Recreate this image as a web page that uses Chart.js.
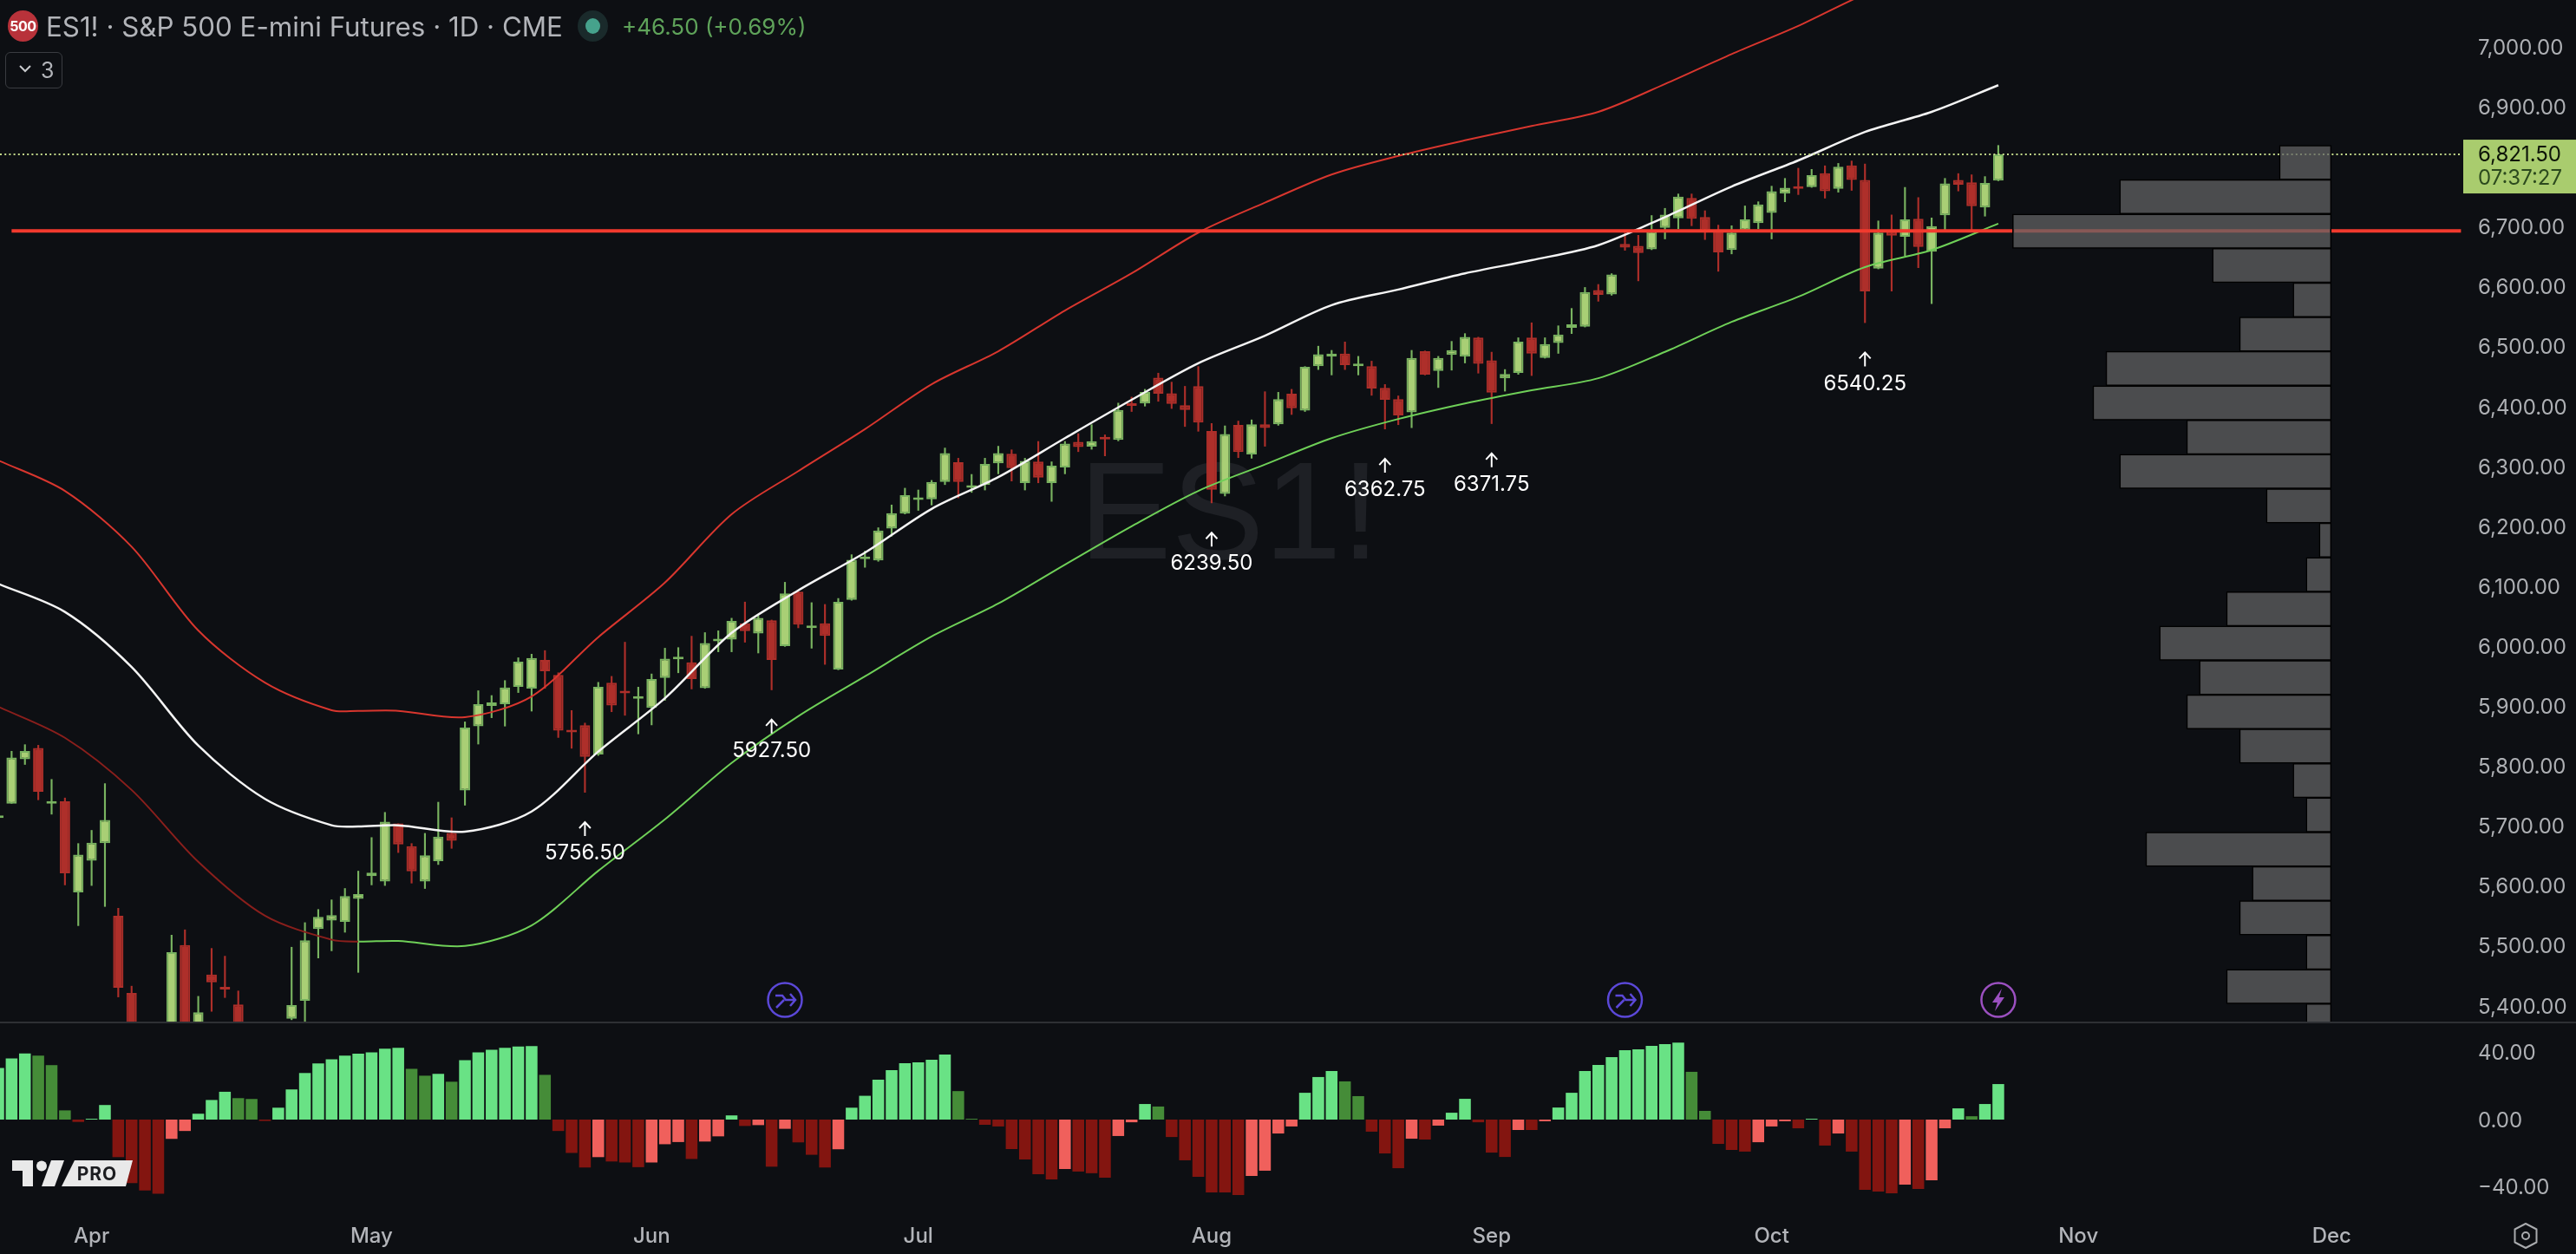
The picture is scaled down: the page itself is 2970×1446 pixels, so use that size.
<!DOCTYPE html>
<html>
<head>
<meta charset="utf-8">
<title>ES1! daily</title>
<script src="https://cdn.jsdelivr.net/npm/chart.js@4/dist/chart.umd.js"></script>
<style>
  html, body { margin: 0; padding: 0; background: #0d0f13; }
  #page { position: relative; width: 2970px; height: 1446px; overflow: hidden; background: #0d0f13; font-family: Inter, sans-serif; }
  #page canvas { position: absolute; left: 0; }
  #priceChart { top: 0; }
  #oscChart { top: 1180px; }
  .abs { position: absolute; white-space: nowrap; }
  #watermark { left: 1244px; top: 493px; font: 160px/1.2 "Liberation Sans", sans-serif; color: #1e2025; }
  #sep { left: 0; top: 1178px; width: 2970px; height: 2px; background: #2e3034; }
  #badge { left: 9px; top: 12px; width: 35px; height: 36px; border-radius: 50%; background: #b8323a; color: #fff; font: 700 16px/36px Inter, sans-serif; text-align: center; letter-spacing: -0.5px; }
  #title { left: 53px; top: 13px; font-size: 31.3px; line-height: 36px; color: #b2b4b9; }
  #dotOuter { left: 666px; top: 12px; width: 35px; height: 36px; border-radius: 50%; background: #1a2a2b; }
  #dotInner { left: 675px; top: 21px; width: 17px; height: 18px; border-radius: 50%; background: #46a28c; }
  #change { left: 717px; top: 15px; font-size: 26px; line-height: 32px; color: #5fa35a; }
  #legendBox { left: 6px; top: 60px; width: 64px; height: 40px; border: 1.5px solid #3a3c41; border-radius: 6px; color: #b2b4b9; font-size: 25px; line-height: 40px; }
  #legendBox span { position: absolute; left: 40px; top: 0; }
</style>
</head>
<body>
<div id="page">
  <div id="watermark" class="abs">ES1!</div>
  <canvas id="priceChart" width="2970" height="1178"></canvas>
  <canvas id="oscChart" width="2970" height="266"></canvas>
  <div id="sep" class="abs"></div>
  <div id="badge" class="abs">500</div>
  <div id="title" class="abs">ES1! · S&amp;P 500 E-mini Futures · 1D · CME</div>
  <div id="dotOuter" class="abs"></div>
  <div id="dotInner" class="abs"></div>
  <div id="change" class="abs">+46.50 (+0.69%)</div>
  <div id="legendBox" class="abs">
    <svg style="position:absolute;left:14px;top:13px" width="16" height="12"><path d="M2 2 L8 8 L14 2" fill="none" stroke="#c8cacd" stroke-width="2"/></svg>
    <span>3</span>
  </div>
  <svg class="abs" style="left:0;top:1330px" width="170" height="46">
    <path d="M14 8 H38 V38 H26 V20 H14 Z" fill="#e9e9e9"/>
    <circle cx="48" cy="14.5" r="6" fill="#e9e9e9"/>
    <path d="M59 8 H74 L63 38 H48 Z" fill="#e9e9e9"/>
    <path d="M86 8 H153 L145 38 H71 Z" fill="#e9e9e9"/>
    <text x="112" y="31" text-anchor="middle" font-family="Inter" font-weight="700" font-size="21" letter-spacing="1" fill="#1c1d20">PRO</text>
  </svg>
  <svg class="abs" style="left:2895px;top:1408px" width="34" height="34">
    <path d="M9.5 4.5 H24.5 L31 17 L24.5 29.5 H9.5 L3 17 Z" fill="none" stroke="#a9abae" stroke-width="2" stroke-linejoin="round" transform="rotate(90 17 17)"/>
    <circle cx="17" cy="17" r="4" fill="none" stroke="#a9abae" stroke-width="2"/>
  </svg>
</div>

<script>
const opens = [5714,5738,5812,5831,5738,5742,5590,5643,5672,5551,5422,5280,5060,5060,5502,5340,5453,5430,5403,5340,5210,5290,5379,5409,5529,5543,5541,5579,5617,5608,5705,5667,5608,5642,5689,5760,5867,5901,5904,5933,5930,5978,5953,5859,5869,5820,5940,5924,5913,5898,5948,5979,5974,5931,6009,6012,6039,6022,6044,6001,6092,6031,6039,5962,6078,6146,6144,6197,6222,6245,6246,6275,6308,6265,6270,6306,6322,6273,6309,6273,6299,6342,6334,6348,6345,6404,6406,6449,6423,6403,6435,6360,6255,6370,6321,6371,6371,6422,6394,6468,6484,6489,6468,6468,6432,6413,6391,6493,6460,6487,6484,6516,6478,6448,6457,6516,6482,6507,6532,6534,6595,6588,6672,6669,6663,6699,6715,6749,6717,6695,6662,6695,6707,6724,6756,6767,6767,6790,6764,6803,6779,6631,6693,6684,6714,6659,6720,6779,6775,6733,6778];
const highs = [5722,5826,5837,5836,5779,5748,5672,5694,5772,5564,5434,5330,5290,5519,5528,5417,5497,5484,5426,5368,5300,5365,5499,5540,5562,5578,5597,5626,5682,5724,5705,5672,5689,5741,5715,5875,5927,5919,5944,5982,5988,5994,5957,5894,5873,5941,5951,6008,5933,5955,5998,5999,6018,6024,6027,6048,6075,6052,6045,6108,6093,6074,6071,6081,6154,6160,6199,6237,6265,6262,6278,6332,6315,6288,6315,6335,6329,6315,6343,6309,6343,6356,6371,6354,6407,6417,6430,6457,6442,6435,6468,6373,6369,6377,6379,6426,6425,6430,6468,6502,6495,6509,6485,6477,6438,6419,6495,6494,6485,6510,6523,6517,6492,6463,6516,6541,6516,6536,6565,6600,6605,6623,6691,6687,6720,6732,6756,6756,6728,6704,6703,6736,6743,6769,6782,6799,6797,6803,6807,6811,6806,6711,6721,6767,6750,6716,6782,6790,6788,6785,6837];
const lows = [5708,5738,5803,5744,5720,5602,5534,5601,5566,5415,5250,5100,4830,5020,5260,5280,5391,5414,5300,5200,5150,5270,5377,5370,5480,5492,5523,5456,5602,5601,5656,5605,5596,5636,5663,5735,5837,5881,5867,5923,5892,5930,5848,5830,5756.5,5818,5891,5885,5854,5869,5910,5956,5929,5930,5991,5991,6007,5989,5927.5,6000,6031,5997,5970,5961,6077,6132,6142,6184,6221,6227,6236,6270,6248,6257,6261,6288,6276,6261,6273,6242,6288,6325,6329,6318,6343,6392,6401,6409,6397,6367,6359,6239.5,6251,6315,6314,6334,6369,6387,6392,6462,6453,6462,6453,6419,6362.75,6370,6365,6453,6432,6461,6473,6456,6371.75,6426,6454,6452,6481,6489,6522,6533,6576,6586,6661,6610,6662,6680,6697,6702,6679,6626,6655,6692,6697,6680,6742,6754,6766,6748,6758,6761,6540.25,6630,6593,6652,6632,6572,6695,6760,6695,6718,6777];
const closes = [5717,5815,5826,5758,5740,5622,5653,5673,5711,5431,5290,5110,5080,5490,5330,5390,5440,5428,5340,5210,5290,5350,5402,5510,5549,5552,5584,5587,5623,5708,5670,5625,5652,5683,5676,5865,5904,5907,5932,5975,5981,5959,5860,5857,5816,5933,5902,5922,5916,5946,5980,5981,5946,6006,6011,6043,6026,6048,5978,6089,6037,6034,6018,6075,6145,6149,6194,6223,6253,6248,6275,6323,6275,6269,6305,6323,6298,6310,6282,6302,6339,6333,6343,6346,6395,6402,6425,6422,6405,6395,6374,6262,6355,6325,6371,6365,6413,6398,6467,6488,6489,6470,6470,6431,6412,6386,6482,6454,6482,6495,6517,6472,6424,6455,6509,6489,6505,6521,6538,6592,6587,6621,6666,6657,6693,6721,6751,6714,6693,6658,6691,6713,6738,6760,6766,6764,6787,6760,6801,6779,6593,6691,6686,6713,6667,6702,6773,6771,6735,6774,6821.5];

const oscValues = [30.8,36.5,39.5,38.2,32.5,5.5,-1.4,0.5,8.7,-22.4,-37.9,-42.3,-44.2,-11.5,-6.8,3.5,11.7,16.6,12.8,12.3,-0.8,7.1,18,27.8,33.5,36,38.2,39.3,40.1,42.3,42.8,30.3,26.2,27.3,22.6,35.5,40.1,41.7,42.8,43.6,43.9,26.7,-6.8,-19.9,-28.6,-22.4,-25,-25.6,-28.4,-25.6,-14.7,-13.4,-23.5,-13.1,-10,2.5,-3.8,-3.3,-28.1,-5.5,-13.6,-21,-28.6,-17.7,7.1,14.2,23.8,29.5,33.6,34.2,35.7,38.8,17,0.5,-3.1,-4.1,-17.6,-23.8,-32.6,-35.7,-29.5,-31,-32,-34.7,-9.8,-1.6,9.3,7.8,-10.4,-24.3,-34.2,-43.5,-43.5,-45,-33.6,-30.5,-8.3,-4.1,16,25.4,29,22.8,14,-7.2,-20.2,-29,-11.4,-11.9,-3.6,4.1,12.4,-1.6,-19.7,-22.3,-6.2,-6.2,-1,7.2,16,29,32.6,37.3,41.4,41.9,44,45,46,28.5,5.2,-14.5,-18.1,-19.1,-13.5,-4.1,-1,-5.2,0.5,-15.5,-8.3,-19.1,-41.9,-43,-44,-38.8,-41.4,-36.2,-5.2,6.7,2,9.3,21.2];

// bands at these bar numbers
const lineIdx = [0,5,10,15,20,25,27,30,35,40,45,50,55,60,65,70,75,80,85,90,95,100,105,110,115,120,125,130,135,140,145,150];
const upperBand = [6311,6260,6167,6027,5940,5894,5893,5893,5882.5,5917,6016,6107,6221,6293,6363,6438,6493,6561,6623,6691,6741,6788,6819,6845,6869,6892.5,6939,6989,7036,7089,7130,7173];
const midBand = [6105,6058,5966,5835,5746,5702,5700,5702,5691.5,5725,5825,5914,6023,6094,6157,6230,6283,6348,6412,6473,6519,6570,6596,6623,6645,6670,6717,6768,6811.5,6859,6892.5,6937];
const lowerBand = [5900,5848,5761,5641,5551,5511,5508,5509,5500.5,5535,5626,5712,5806,5884,5950.5,6017,6072,6137,6201,6260,6304,6348,6380,6406,6428,6448,6492,6542,6584,6633.5,6662,6706];

const volPrices = [6808,6750.7,6693.4,6636.1,6578.8,6521.5,6464.2,6406.9,6349.6,6292.3,6235,6177.7,6120.4,6063.1,6005.8,5948.5,5891.2,5833.9,5776.6,5719.3,5662,5604.7,5547.4,5490.1,5432.8,5375.5];
const volProfile = [16.3,66.4,100,37.3,12,28.8,70.7,74.8,45.4,66.4,20.4,3.8,7.9,32.9,53.9,41.4,45.4,28.8,12,7.9,58.2,24.8,28.8,7.9,32.9,7.9];

const priceTicks = [7000,6900,6700,6600,6500,6400,6300,6200,6100,6000,5900,5800,5700,5600,5500,5400];
const oscTicks = [40,0,-40];
const monthIdx = [7,28,49,69,91,112,133,156,175];
const monthLabels = ["Apr","May","Jun","Jul","Aug","Sep","Oct","Nov","Dec"];

const lastPrice = 6821.5;
const countdown = "07:37:27";
const levelLine = 6694;
const lowMarks = [44,58,91,104,112,140];
const eventBars = [59,122];
const flashBars = [150];

const xMin = 0.13, xMax = 184.87, lineEnd = 184.7;
const yMin = 5374.4, yMax = 7079.2;
const font = "Inter, sans-serif";
const tickColor = "#aeb0b4";

const upFill = "#a9cf75", upEdge = "#79b360", downFill = "#ae2f2a";

function isUp(i) { return closes[i] >= opens[i]; }

// the tick padding must not push the plot area in
function pinWidth(scale) {
  scale.width = 130;
  scale.paddingTop = 0;
  scale.paddingBottom = 0;
}

function oscColor(ctx) {
  const i = ctx.dataIndex;
  const v = oscValues[i];
  const prev = i > 0 ? oscValues[i - 1] : v;
  if (v >= 0) return v >= prev ? "#69e285" : "#458c38";
  return v > prev ? "#f0605c" : "#831510";
}

function bandData(values) {
  return lineIdx.map((x, i) => ({ x: x, y: values[i] }));
}

function bandLine(label, values, color, width) {
  return {
    type: "line", label: label, data: bandData(values), borderColor: color, borderWidth: width,
    pointRadius: 0, tension: 0.3, order: 2, xAxisID: "x", yAxisID: "y"
  };
}

// arrows under the swing lows, event icons, last price box
const overlayPlugin = {
  id: "overlay",
  afterDraw(chart) {
    const c = chart.ctx, xs = chart.scales.x, ys = chart.scales.y;
    c.save();
    lowMarks.forEach((i) => {
      const x = xs.getPixelForValue(i), y = ys.getPixelForValue(lows[i]);
      c.strokeStyle = "#fff";
      c.lineWidth = 2;
      c.beginPath();
      c.moveTo(x, y + 34);
      c.lineTo(x, y + 50);
      c.moveTo(x - 6.5, y + 41);
      c.lineTo(x, y + 34);
      c.lineTo(x + 6.5, y + 41);
      c.stroke();
      c.fillStyle = "#fff";
      c.font = "24px " + font;
      c.textAlign = "center";
      c.textBaseline = "middle";
      c.fillText(lows[i].toFixed(2), x, y + 70);
    });

    const cy = chart.chartArea.bottom - 25;
    eventBars.forEach((i) => {
      const x = xs.getPixelForValue(i);
      c.strokeStyle = "#5b48d8";
      c.lineWidth = 2.5;
      c.beginPath();
      c.arc(x, cy, 19.5, 0, Math.PI * 2);
      c.stroke();
      c.beginPath();
      c.moveTo(x - 11, cy - 5);
      c.lineTo(x - 3, cy - 5);
      c.lineTo(x + 1, cy);
      c.lineTo(x + 12, cy);
      c.moveTo(x + 6, cy - 7);
      c.lineTo(x + 12, cy);
      c.lineTo(x + 6, cy + 7);
      c.moveTo(x - 10, cy + 9);
      c.lineTo(x - 1, cy);
      c.stroke();
    });
    flashBars.forEach((i) => {
      const x = xs.getPixelForValue(i);
      c.strokeStyle = "#9b50c0";
      c.fillStyle = "#9b50c0";
      c.lineWidth = 2.5;
      c.beginPath();
      c.arc(x, cy, 19.5, 0, Math.PI * 2);
      c.stroke();
      c.beginPath();
      c.moveTo(x + 4, cy - 13);
      c.lineTo(x - 7, cy + 3);
      c.lineTo(x - 1, cy + 3);
      c.lineTo(x - 4, cy + 13);
      c.lineTo(x + 7, cy - 3);
      c.lineTo(x + 1, cy - 3);
      c.closePath();
      c.fill();
    });

    const py = ys.getPixelForValue(lastPrice);
    c.fillStyle = "#a9cc6e";
    c.fillRect(2840, py - 17, 130, 62);
    c.textAlign = "left";
    c.textBaseline = "middle";
    c.font = "24px " + font;
    c.fillStyle = "#0d1408";
    c.fillText(lastPrice.toLocaleString("en-US", { minimumFractionDigits: 2 }), 2857, py + 1);
    c.fillStyle = "#2c4a1e";
    c.fillText(countdown, 2857, py + 28);
    c.restore();
  }
};

const priceChart = new Chart(document.getElementById("priceChart").getContext("2d"), {
  data: {
    datasets: [
      {
        type: "bar", label: "volume profile", indexAxis: "y",
        data: volProfile.map((v, i) => ({ x: v, y: volPrices[i] })),
        xAxisID: "xVol", yAxisID: "yVol", grouped: false, order: 0,
        backgroundColor: "rgba(97,98,100,0.74)", borderColor: "#000", borderWidth: 1.5, borderSkipped: false,
        categoryPercentage: 1, barPercentage: 1
      },
      {
        type: "line", label: "level", data: [{ x: 1, y: levelLine }, { x: lineEnd, y: levelLine }],
        borderColor: "#f23a2e", borderWidth: 4, pointRadius: 0, order: 1, xAxisID: "x", yAxisID: "y"
      },
      {
        type: "line", label: "last", data: [{ x: xMin, y: lastPrice }, { x: lineEnd, y: lastPrice }],
        borderColor: "#c2d98a", borderWidth: 2, borderDash: [2, 3.2], pointRadius: 0, order: 1, xAxisID: "x", yAxisID: "y"
      },
      bandLine("upper", upperBand, "#d8362e", 2),
      bandLine("mid", midBand, "#f4f4f4", 2.5),
      Object.assign(bandLine("lower", lowerBand, "#6fd058", 2), {
        segment: { borderColor: (c) => (c.p0.parsed.x < 27 ? "#8a1f1c" : "#6fd058") }
      }),
      {
        type: "bar", label: "bodies",
        data: opens.map((o, i) => ({ x: i, y: [o, closes[i]] })),
        xAxisID: "x", yAxisID: "y", grouped: false, order: 3, minBarLength: 3,
        backgroundColor: (c) => (isUp(c.dataIndex) ? upFill : downFill),
        borderColor: (c) => (isUp(c.dataIndex) ? upEdge : downFill),
        borderWidth: 2, borderSkipped: false,
        categoryPercentage: 1, barPercentage: 0.78
      },
      {
        type: "bar", label: "wicks",
        data: lows.map((l, i) => ({ x: i, y: [l, highs[i]] })),
        xAxisID: "x", yAxisID: "y", grouped: false, order: 4,
        backgroundColor: (c) => (isUp(c.dataIndex) ? upEdge : downFill),
        categoryPercentage: 1, barPercentage: 0.14
      }
    ]
  },
  options: {
    responsive: false,
    animation: false,
    layout: { padding: 0, autoPadding: false },
    plugins: { legend: { display: false }, tooltip: { enabled: false } },
    scales: {
      x: { type: "linear", min: xMin, max: xMax, offset: false, display: false, ticks: { includeBounds: false, stepSize: 20 } },
      xVol: { type: "linear", axis: "x", min: -41.4, max: 731.4, reverse: true, offset: false, display: false },
      yVol: { type: "linear", axis: "y", min: yMin, max: yMax, offset: false, display: false, ticks: { includeBounds: false, stepSize: 200 } },
      y: {
        type: "linear", position: "right", min: yMin, max: yMax, offset: false,
        grid: { display: false, drawTicks: false },
        border: { display: false },
        afterFit: pinWidth,
        afterBuildTicks: (s) => { s.ticks = priceTicks.map((v) => ({ value: v })); },
        ticks: {
          padding: 17, labelOffset: 1, color: tickColor, font: { family: font, size: 24 }, autoSkip: false,
          callback: (v) => v.toLocaleString("en-US", { minimumFractionDigits: 2 })
        }
      }
    }
  },
  plugins: [overlayPlugin]
});

const oscChart = new Chart(document.getElementById("oscChart").getContext("2d"), {
  type: "bar",
  data: {
    datasets: [{
      label: "osc",
      data: oscValues.map((v, i) => ({ x: i, y: v })),
      backgroundColor: oscColor,
      categoryPercentage: 1, barPercentage: 0.88
    }]
  },
  options: {
    responsive: false,
    animation: false,
    layout: { padding: 0, autoPadding: false },
    plugins: { legend: { display: false }, tooltip: { enabled: false } },
    scales: {
      x: {
        type: "linear", min: xMin, max: xMax, offset: false,
        grid: { display: false, drawTicks: false },
        border: { display: false },
        afterFit: (s) => { s.height = 46; s.paddingLeft = 0; s.paddingRight = 0; },
        afterBuildTicks: (s) => { s.ticks = monthIdx.map((v) => ({ value: v })); },
        ticks: {
          padding: 11, color: "#b2b4b9", font: { family: font, size: 24, weight: "500" },
          autoSkip: false, maxRotation: 0,
          callback: (v) => monthLabels[monthIdx.indexOf(v)]
        }
      },
      y: {
        type: "linear", position: "right", min: -56.4, max: 57.45, offset: false,
        grid: { display: false, drawTicks: false },
        border: { display: false },
        afterFit: pinWidth,
        afterBuildTicks: (s) => { s.ticks = oscTicks.map((v) => ({ value: v })); },
        ticks: {
          padding: 17, labelOffset: 1.5, color: tickColor, font: { family: font, size: 24 }, autoSkip: false,
          callback: (v) => (v < 0 ? "\u2212" : "") + Math.abs(v).toFixed(2)
        }
      }
    }
  }
});
</script>
</body>
</html>
